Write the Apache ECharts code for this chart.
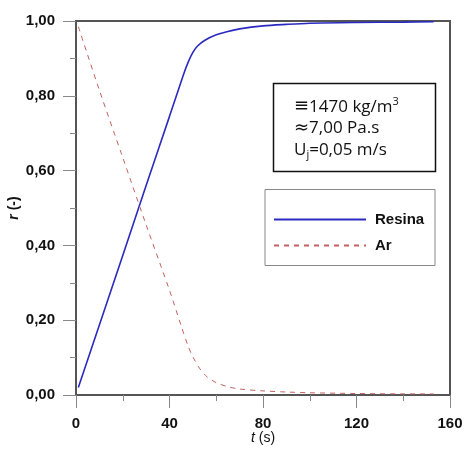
<!DOCTYPE html>
<html><head><meta charset="utf-8">
<script src="https://cdn.jsdelivr.net/npm/echarts@6/dist/echarts.min.js"></script>
<style>html,body{margin:0;padding:0;background:#fff}#c{width:465px;height:451px}</style>
</head><body><div id="c"></div>
<script>
// t (s) and r (-) values
const resinaT = [1, 10, 20, 30, 40, 46, 48, 50, 52, 55, 60, 65, 70, 80, 90, 100, 120, 140, 153];
const resinaR = [0.02, 0.187, 0.373, 0.56, 0.745, 0.857, 0.89, 0.916, 0.933, 0.948, 0.963, 0.972, 0.979, 0.987, 0.991, 0.994, 0.996, 0.997, 0.998];
const arT = [1, 10, 20, 30, 40, 45, 48, 50, 53, 56, 60, 65, 70, 80, 90, 100, 120, 140, 153];
const arR = [0.985, 0.815, 0.635, 0.455, 0.28, 0.185, 0.13, 0.102, 0.07, 0.049, 0.033, 0.022, 0.016, 0.011, 0.008, 0.006, 0.004, 0.003, 0.003];
const xTicks = [0, 40, 80, 120, 160];
const yTicks = [0, 0.2, 0.4, 0.6, 0.8, 1.0];
const seriesNames = ['Resina', 'Ar'];

const chart = echarts.init(document.getElementById('c'));
const zip = (a, b) => a.map((v, i) => [v, b[i]]);
const axisCol = '#555';
chart.setOption({
  animation: false,
  grid: { left: 76, right: 15, top: 21, bottom: 56, show: true, borderColor: axisCol, borderWidth: 2,
          containLabel: false, outerBoundsMode: 'none' },
  xAxis: {
    type: 'value', min: 0, max: 160, interval: 40,
    axisLine: { show: true, onZero: false, lineStyle: { color: axisCol, width: 2 } },
    axisTick: { show: true, inside: false, length: 13, lineStyle: { color: '#888', width: 1 } },
    minorTick: { show: true, splitNumber: 2, length: 6, lineStyle: { color: '#888', width: 1 } },
    splitLine: { show: false },
    axisLabel: { color: '#111', fontFamily: 'Liberation Sans', fontWeight: 'bold', fontSize: 15, margin: 21,
      formatter: v => xTicks.includes(v) ? String(v) : '' },
    name: '{i|t} (s)', nameLocation: 'middle', nameGap: 36, nameMoveOverlap: false,
    nameTextStyle: { fontFamily: 'Liberation Sans', fontSize: 14, color: '#111',
      rich: { i: { fontStyle: 'italic', fontFamily: 'Liberation Sans', fontSize: 14, color: '#111' } } }
  },
  yAxis: {
    type: 'value', min: 0, max: 1, interval: 0.2,
    axisLine: { show: true, onZero: false, lineStyle: { color: axisCol, width: 2 } },
    axisTick: { show: true, inside: false, length: 13, lineStyle: { color: '#888', width: 1 } },
    minorTick: { show: true, splitNumber: 2, length: 6, lineStyle: { color: '#888', width: 1 } },
    splitLine: { show: false },
    axisLabel: { color: '#111', fontFamily: 'Liberation Sans', fontWeight: 'bold', fontSize: 15, margin: 21,
      formatter: v => { const t = yTicks.find(y => Math.abs(y - v) < 1e-6); return t === undefined ? '' : t.toFixed(2).replace('.', ','); } },
    name: '{i|r} (-)', nameLocation: 'middle', nameGap: 55, nameRotate: 90, nameMoveOverlap: false,
    nameTextStyle: { fontFamily: 'Liberation Sans', fontSize: 14, fontWeight: 'bold', color: '#111',
      rich: { i: { fontStyle: 'italic', fontWeight: 'bold', fontFamily: 'Liberation Sans', fontSize: 14, color: '#111' } } }
  },
  legend: {
    orient: 'vertical', left: 268, top: 207, itemWidth: 92, itemHeight: 12, itemGap: 11,
    data: seriesNames, itemStyle: { opacity: 0 },
    textStyle: { fontFamily: 'Liberation Sans', fontWeight: 'bold', fontSize: 15, color: '#111', padding: [0, 0, 0, 4] }
  },
  graphic: [
    { type: 'rect', shape: { x: 273.5, y: 83.5, width: 162, height: 88 }, style: { fill: '#fff', stroke: '#111', lineWidth: 1.5 }, z: 5 },
    { type: 'text', left: 294, top: 96, z: 6, style: {
        text: '{s|≡}1470 kg/m{sup|3}\n{s|≈}7,00 Pa.s\nU{sub|j}=0,05 m/s',
        font: '17px "Open Sans"', fill: '#111', lineHeight: 21.5,
        rich: { s: { fontSize: 18, fontFamily: 'DejaVu Sans', fill: '#111', lineHeight: 21.5 },
                sup: { fontSize: 11, verticalAlign: 'top', lineHeight: 14, fontFamily: 'Open Sans', fill: '#111' },
                sub: { fontSize: 11, verticalAlign: 'bottom', lineHeight: 8, fontFamily: 'Open Sans', fill: '#111' } } } },
    { type: 'rect', shape: { x: 265, y: 189.5, width: 170, height: 76 }, style: { fill: 'none', stroke: '#888', lineWidth: 1 }, z: 1 }
  ],
  series: [
    { name: seriesNames[0], type: 'line', data: zip(resinaT, resinaR), showSymbol: false, symbol: 'none', smooth: 0.3,
      lineStyle: { color: '#2a2ac0', width: 1.6 }, itemStyle: { color: '#2a2ac0' } },
    { name: seriesNames[1], type: 'line', data: zip(arT, arR), showSymbol: false, symbol: 'none', smooth: 0.3,
      lineStyle: { color: '#c46060', width: 1, type: [5, 5] }, itemStyle: { color: '#c46060' } }
  ]
});
</script></body></html>
